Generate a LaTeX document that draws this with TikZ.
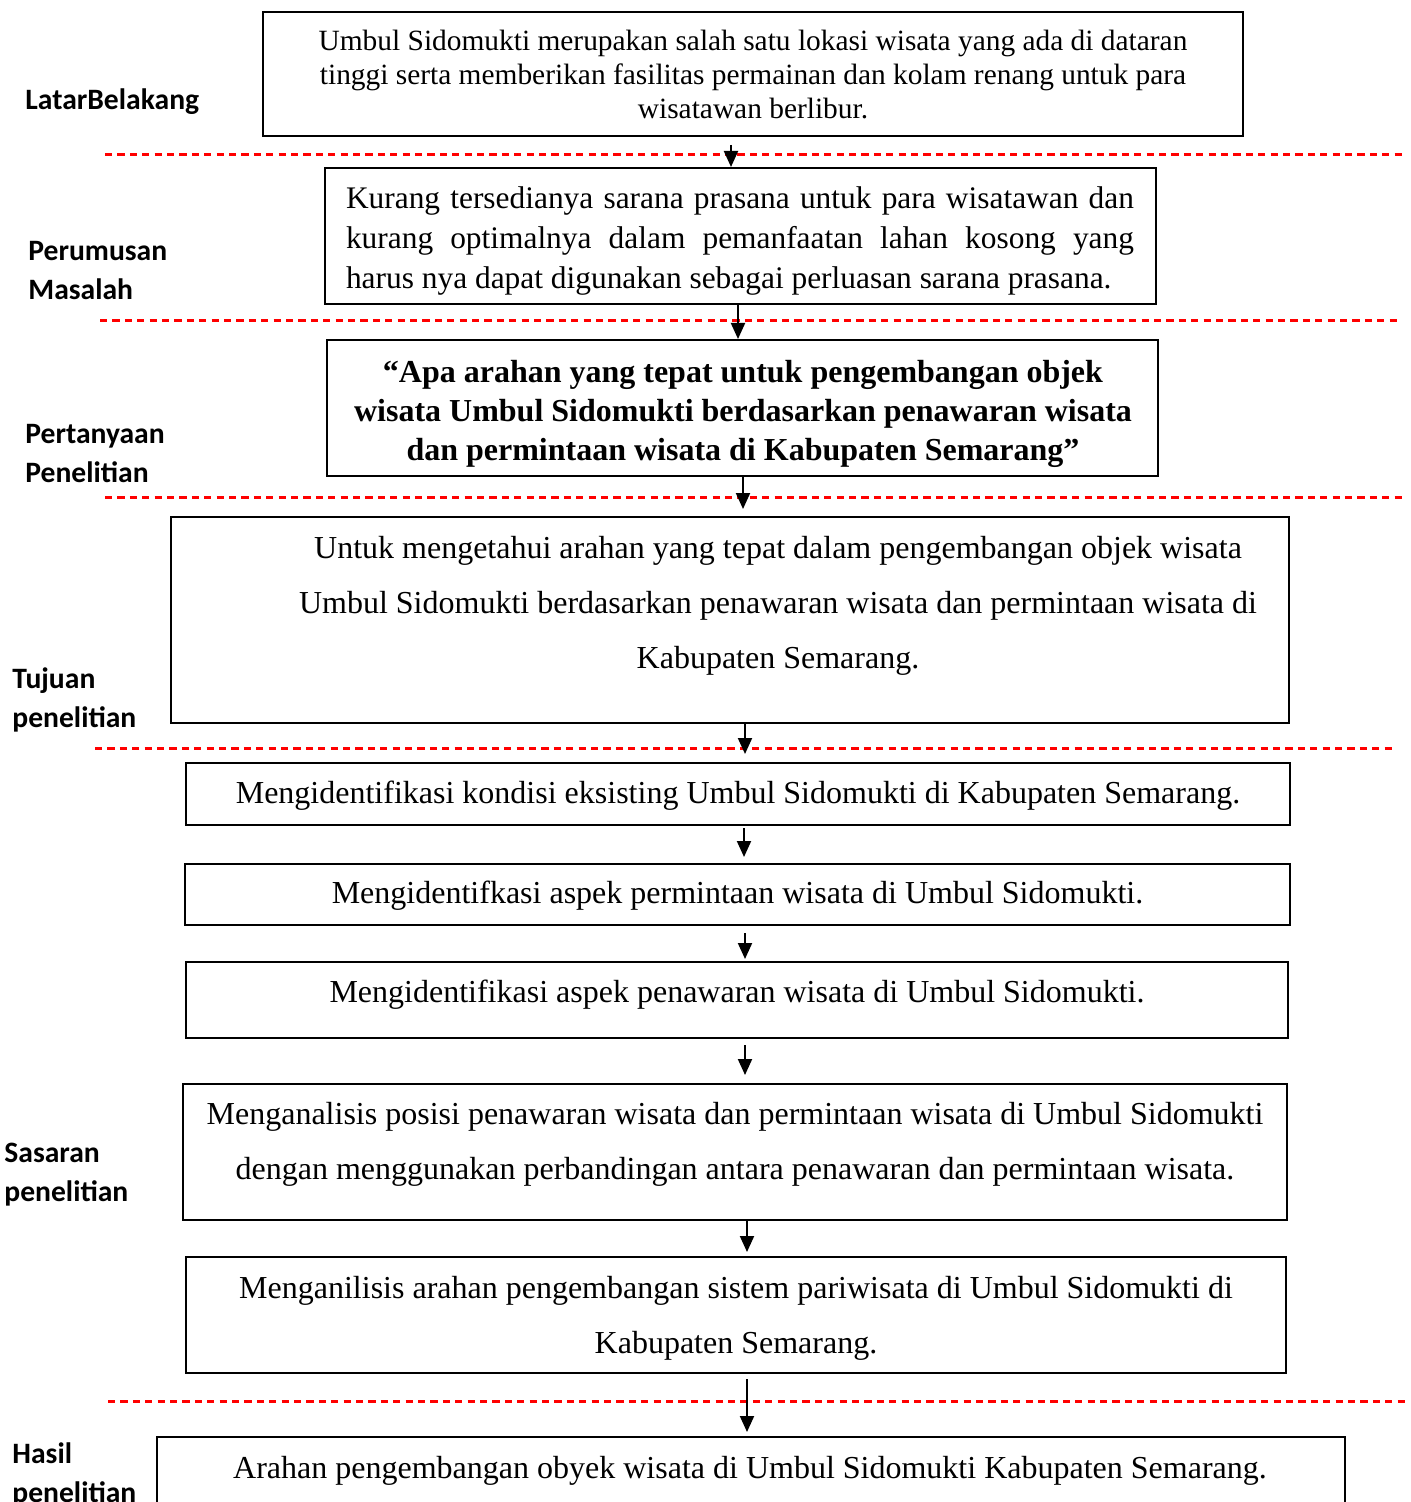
\documentclass[tikz,border=0pt]{standalone}
\usepackage{fontspec}
\setmainfont{Liberation Serif}
\newfontfamily\tagfont{Carlito}
\usetikzlibrary{arrows.meta,fit}

\tikzset{
  box/.style={draw, line width=1pt, inner sep=0pt},
  txt/.style={align=center, inner sep=0pt},
  tag/.style={anchor=west, align=left, inner sep=0pt,
    font=\tagfont\bfseries\fontsize{14.8}{19.5}\selectfont},
  sep/.style={red, line width=1.5pt, dash pattern=on 3.6pt off 2.6pt},
  arr/.style={line width=1pt, -{Triangle[width=7pt,length=8pt]}}
}

\begin{document}
\begin{tikzpicture}[x=0.5pt,y=-0.5pt]
  \useasboundingbox (0,0) rectangle (1411,1502);
  \clip (0,0) rectangle (1411,1502);

  % separators
  \draw[sep] (105,155) -- (1405,155);
  \draw[sep] (100,321) -- (1400,321);
  \draw[sep] (105,497) -- (1405,497);
  \draw[sep] (95,748) -- (1395,748);
  \draw[sep] (108,1401) -- (1408,1401);

  % labels
  \node[tag] (latar) at (25,102) {LatarBelakang};
  \node[tag] (rumusan) at (28,271) {Perumusan\\Masalah};
  \node[tag] (tanya) at (25,454) {Pertanyaan\\Penelitian};
  \node[tag] (tujuan) at (12,700) {Tujuan\\penelitian};
  \node[tag] (sasaran) at (4,1175) {Sasaran\\penelitian};
  \node[tag] (hasil) at (12,1475) {Hasil\\penelitian};

  % boxes
  \node[box, fit={(263,12) (1243,136)}] (lb) {};
  \node[txt, font=\fontsize{14.7}{17}\selectfont] (lbtext) at (753,75)
    {Umbul Sidomukti merupakan salah satu lokasi wisata yang ada di dataran\\
     tinggi serta memberikan fasilitas permainan dan kolam renang untuk para\\
     wisatawan berlibur.};

  \node[box, fit={(325,168) (1156,304)}] (pm) {};
  \node[txt, align=left, font=\fontsize{15.7}{20}\selectfont] (pmtext) at (740,241)
    {\makebox[394pt][s]{Kurang tersedianya sarana prasana untuk para wisatawan dan}\\
     \makebox[394pt][s]{kurang optimalnya dalam pemanfaatan lahan kosong yang}\\
     \makebox[394pt][l]{harus nya dapat digunakan sebagai perluasan sarana prasana.}};

  \node[box, fit={(327,340) (1158,476)}] (pp) {};
  \node[txt, font=\bfseries\fontsize{16}{19.5}\selectfont] (pptext) at (743,414)
    {“Apa arahan yang tepat untuk pengembangan objek\\
     wisata Umbul Sidomukti berdasarkan penawaran wisata\\
     dan permintaan wisata di Kabupaten Semarang”};

  \node[box, fit={(171,517) (1289,723)}] (tp) {};
  \node[txt, font=\fontsize{16}{27.5}\selectfont] (tptext) at (778,606)
    {Untuk mengetahui arahan yang tepat dalam pengembangan objek wisata\\
     Umbul Sidomukti berdasarkan penawaran wisata dan permintaan wisata di\\
     Kabupaten Semarang.};

  \node[box, fit={(186,763) (1290,825)}] (sa) {};
  \node[txt, font=\fontsize{16}{27.5}\selectfont] (satext) at (738,796)
    {Mengidentifikasi kondisi eksisting Umbul Sidomukti di Kabupaten Semarang.};

  \node[box, fit={(185,864) (1290,925)}] (sb) {};
  \node[txt, font=\fontsize{16}{27.5}\selectfont] (sbtext) at (737.5,896)
    {Mengidentifkasi aspek permintaan wisata di Umbul Sidomukti.};

  \node[box, fit={(186,962) (1288,1038)}] (sc) {};
  \node[txt, font=\fontsize{16}{27.5}\selectfont] (sctext) at (737,995)
    {Mengidentifikasi aspek penawaran wisata di Umbul Sidomukti.};

  \node[box, fit={(183,1084) (1287,1220)}] (sd) {};
  \node[txt, font=\fontsize{16}{27.5}\selectfont] (sdtext) at (735,1144.5)
    {Menganalisis posisi penawaran wisata dan permintaan wisata di Umbul Sidomukti\\
     dengan menggunakan perbandingan antara penawaran dan permintaan wisata.};

  \node[box, fit={(186,1257) (1286,1373)}] (se) {};
  \node[txt, font=\fontsize{16}{27.5}\selectfont] (setext) at (736,1318)
    {Menganilisis arahan pengembangan sistem pariwisata di Umbul Sidomukti di\\
     Kabupaten Semarang.};

  \node[box, fit={(157,1437) (1345,1540)}] (hp) {};
  \node[txt, font=\fontsize{16}{27.5}\selectfont] (hptext) at (750,1471)
    {Arahan pengembangan obyek wisata di Umbul Sidomukti Kabupaten Semarang.};

  % arrows
  \draw[arr, shorten <=4pt] (lb.south -| 731,0) -- (731,0 |- pm.north);
  \draw[arr] (pm.south -| 738,0) -- (738,0 |- pp.north);
  \draw[arr, shorten >=3.5pt] (pp.south -| 743,0) -- (743,0 |- tp.north);
  \draw[arr, shorten >=4pt] (tp.south -| 745,0) -- (745,0 |- sa.north);
  \draw[arr, shorten <=1pt, shorten >=3pt] (sa.south -| 744,0) -- (744,0 |- sb.north);
  \draw[arr, shorten <=3.5pt, shorten >=1pt] (sb.south -| 745,0) -- (745,0 |- sc.north);
  \draw[arr, shorten <=3pt, shorten >=4pt] (sc.south -| 745,0) -- (745,0 |- sd.north);
  \draw[arr, shorten >=2pt] (sd.south -| 747,0) -- (747,0 |- se.north);
  \draw[arr, shorten <=2.5pt, shorten >=2pt] (se.south -| 747,0) -- (747,0 |- hp.north);
\end{tikzpicture}
\end{document}
